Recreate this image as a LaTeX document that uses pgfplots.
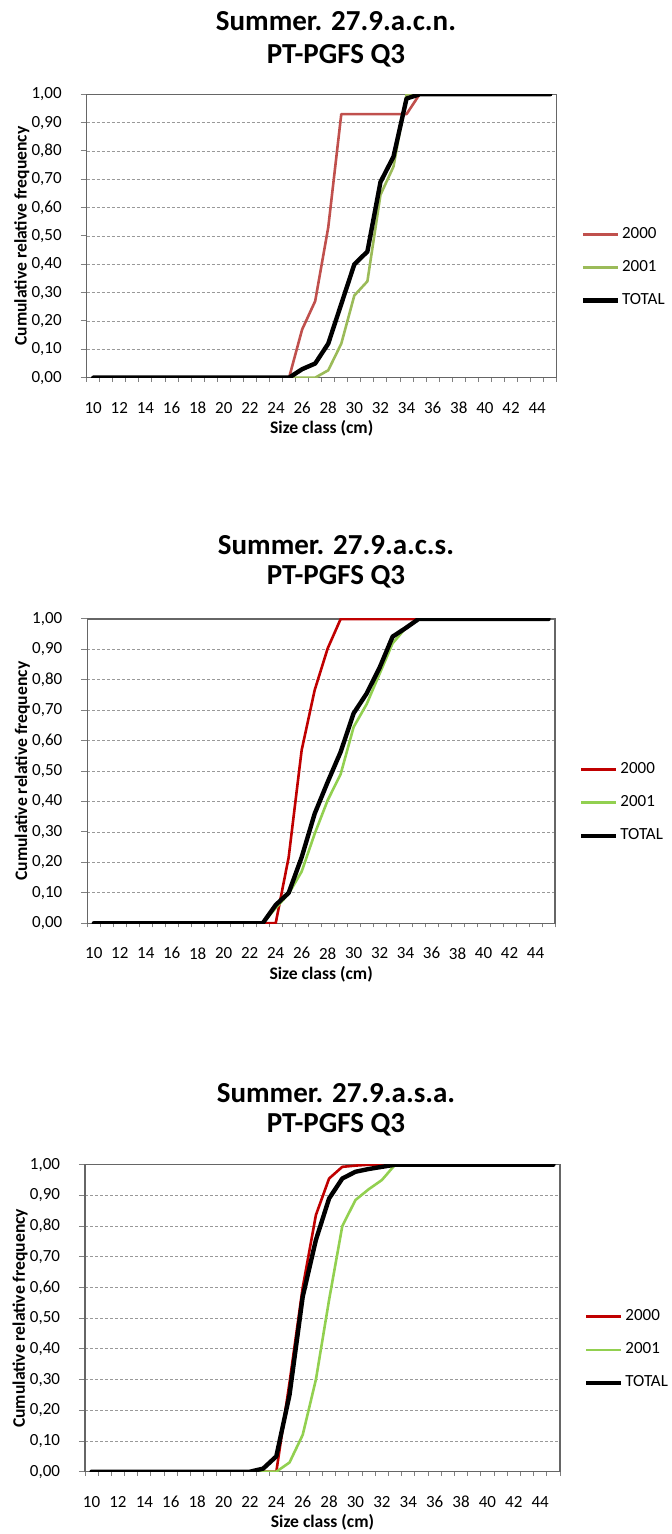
\documentclass[border=0pt]{standalone}
\usepackage{fontspec}
\setmainfont{Carlito}
\usepackage{pgfplots}
\usepackage{pgfplotstable}
\pgfplotsset{compat=1.18}

\definecolor{redA}{HTML}{C0504D}
\definecolor{greenA}{HTML}{9BBB59}
\definecolor{redB}{HTML}{C00000}
\definecolor{greenB}{HTML}{92D050}

% 27.9.a.c.n.
\pgfplotstableread{
size y2000 y2001 total
10 0 0 0
11 0 0 0
12 0 0 0
13 0 0 0
14 0 0 0
15 0 0 0
16 0 0 0
17 0 0 0
18 0 0 0
19 0 0 0
20 0 0 0
21 0 0 0
22 0 0 0
23 0 0 0
24 0 0 0
25 0 0 0
26 0.17 0 0.03
27 0.27 0 0.05
28 0.53 0.026 0.12
29 0.93 0.12 0.26
30 0.93 0.29 0.40
31 0.93 0.34 0.445
32 0.93 0.645 0.69
33 0.93 0.745 0.78
34 0.93 1 0.985
35 1 1 1
36 1 1 1
37 1 1 1
38 1 1 1
39 1 1 1
40 1 1 1
41 1 1 1
42 1 1 1
43 1 1 1
44 1 1 1
45 1 1 1
}\acn

% 27.9.a.c.s.
\pgfplotstableread{
size y2000 y2001 total
10 0 0 0
11 0 0 0
12 0 0 0
13 0 0 0
14 0 0 0
15 0 0 0
16 0 0 0
17 0 0 0
18 0 0 0
19 0 0 0
20 0 0 0
21 0 0 0
22 0 0 0
23 0 0 0
24 0 0.05 0.06
25 0.217 0.097 0.10
26 0.569 0.17 0.217
27 0.766 0.294 0.36
28 0.903 0.404 0.464
29 1 0.49 0.563
30 1 0.645 0.69
31 1 0.72 0.755
32 1 0.82 0.84
33 1 0.92 0.942
34 1 0.97 0.97
35 1 1 1
36 1 1 1
37 1 1 1
38 1 1 1
39 1 1 1
40 1 1 1
41 1 1 1
42 1 1 1
43 1 1 1
44 1 1 1
45 1 1 1
}\acs

% 27.9.a.s.a.
\pgfplotstableread{
size y2000 y2001 total
10 0 0 0
11 0 0 0
12 0 0 0
13 0 0 0
14 0 0 0
15 0 0 0
16 0 0 0
17 0 0 0
18 0 0 0
19 0 0 0
20 0 0 0
21 0 0 0
22 0 0 0
23 0 0 0.01
24 0 0 0.05
25 0.29 0.03 0.25
26 0.6 0.12 0.57
27 0.836 0.3 0.755
28 0.955 0.56 0.89
29 0.993 0.8 0.955
30 0.997 0.885 0.977
31 1 0.92 0.986
32 1 0.95 0.993
33 1 1 1
34 1 1 1
35 1 1 1
36 1 1 1
37 1 1 1
38 1 1 1
39 1 1 1
40 1 1 1
41 1 1 1
42 1 1 1
43 1 1 1
44 1 1 1
45 1 1 1
}\asa

\pgfplotsset{
  excel/.style={
    scale only axis,
    anchor=south west,
    xmin=9.5, xmax=45.5, ymin=0, ymax=1,
    xtick={10,12,...,44},
    minor xtick={9.5,10.5,...,45.5},
    ytick={0,0.1,0.2,0.3,0.4,0.5,0.6,0.7,0.8,0.9,1},
    xtick pos=bottom, ytick pos=left,
    tick align=outside,
    major tick length=3pt, minor tick length=2pt,
    major x tick style={draw opacity=0},
    tick style={black!50, line width=0.5pt},
    ymajorgrids,
    grid style={dash pattern=on 1.5pt off 1pt, black!40, line width=0.4pt},
    axis line style={black!60, line width=0.6pt},
    /pgf/number format/assume math mode=true,
    every tick label/.append style={font=\fontsize{8.5}{10}\selectfont, inner sep=0pt},
    yticklabel style={anchor=east, xshift=-9.3pt,
      /pgf/number format/fixed, /pgf/number format/fixed zerofill,
      /pgf/number format/precision=2, /pgf/number format/use comma},
    xticklabel style={anchor=center, yshift=-12pt},
    xlabel={Size class (cm)},
    ylabel={Cumulative relative frequency},
    every axis x label/.style={at={(rel axis cs:0.5,0)}, anchor=center, yshift=-25.5pt,
      font=\bfseries\fontsize{8.8}{10}\selectfont},
    every axis y label/.style={at={(rel axis cs:0,0.5)}, xshift=-32.5pt, rotate=90, anchor=center,
      font=\bfseries\fontsize{8.8}{10}\selectfont},
    legend style={draw=none, fill=none, at={(1,0.5)}, anchor=west,
      xshift=11.8pt, yshift=-15.8pt, inner sep=0pt, row sep=7.5pt,
      font=\fontsize{8.5}{10}\selectfont, nodes={inner sep=1pt}},
    legend cell align=left,
    legend image code/.code={\draw[##1, line cap=butt] (0pt,0pt) -- (17.5pt,0pt);},
  },
  col/.style={line width=1.3pt, line join=round, line cap=round},
  tot/.style={black, line width=2.2pt, line join=round, line cap=round},
}
\tikzset{ttl/.style={font=\bfseries\fontsize{14.5}{17}\selectfont}}

\begin{document}
\begin{tikzpicture}
\path[use as bounding box] (0,0) rectangle (336pt,767pt);

\node[ttl] at (168pt,756.2pt) {Summer. 27.9.a.c.n.};
\node[ttl] at (168pt,739.1pt) {PT-PGFS Q3};
\begin{axis}[excel, at={(43.35pt,578.15pt)}, width=235pt, height=141.7pt]
\addplot[col, redA] table[x=size, y=y2000] {\acn};
\addplot[col, greenA] table[x=size, y=y2001] {\acn};
\addplot[tot] table[x=size, y=total] {\acn};
\legend{2000, 2001, TOTAL}
\end{axis}

\node[ttl] at (168pt,494.5pt) {Summer. 27.9.a.c.s.};
\node[ttl] at (168pt,478.5pt) {PT-PGFS Q3};
\begin{axis}[excel, at={(43.65pt,305.35pt)}, width=233.85pt, height=152.15pt]
\addplot[col, redB] table[x=size, y=y2000] {\acs};
\addplot[col, greenB] table[x=size, y=y2001] {\acs};
\addplot[tot] table[x=size, y=total] {\acs};
\legend{2000, 2001, TOTAL}
\end{axis}

\node[ttl] at (168pt,220.5pt) {Summer. 27.9.a.s.a.};
\node[ttl] at (168pt,204.5pt) {PT-PGFS Q3};
\begin{axis}[excel, at={(42.5pt,31.15pt)}, width=237.5pt, height=153.5pt]
\addplot[col, redB] table[x=size, y=y2000] {\asa};
\addplot[col, greenB] table[x=size, y=y2001] {\asa};
\addplot[tot] table[x=size, y=total] {\asa};
\legend{2000, 2001, TOTAL}
\end{axis}
\end{tikzpicture}
\end{document}
